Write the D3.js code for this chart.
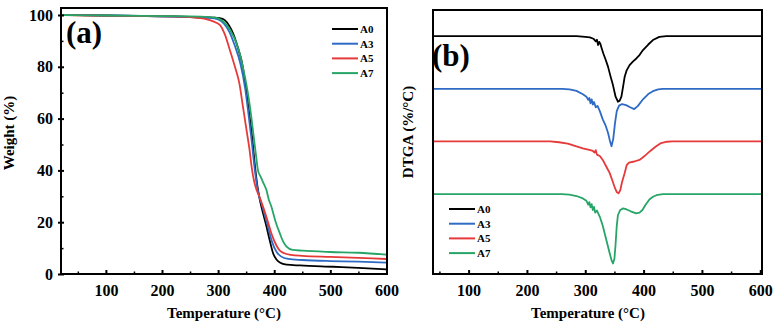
<!DOCTYPE html>
<html>
<head>
<meta charset="utf-8">
<script src="https://cdn.jsdelivr.net/npm/d3@7"></script>
<style>
  body { margin: 0; background: #fff; }
  svg { display: block; }
  text { font-family: "Liberation Serif", "Times New Roman", serif; font-weight: bold; }
</style>
</head>
<body>
<svg id="chart" width="776" height="334"></svg>
<script>
const seriesNames = ["A0", "A3", "A5", "A7"];
const seriesColors = ["#000000", "#2f6bc4", "#e63a3a", "#27a567"];

// TGA: [temperature, weight %]
const tgaA0 = [[20,100],[100,99.8],[200,99.5],[250,99.3],[290,99.0],[303,98.8],[312,98.0],[320,95.8],[326.5,93],[335,87.5],[344,80],[350,71],[356,61],[361,52],[365,43],[370,34],[374,29],[380,23.5],[386,18.5],[392,13],[398,8],[404,5.6],[410,4.4],[422,3.6],[446,3.3],[505,2.8],[550,2.4],[600,1.8]];
const tgaA3 = [[20,100],[100,99.8],[200,99.5],[250,99.2],[285,98.9],[300,98.3],[310,96.8],[320,93.5],[330,88],[340,81],[348,72],[354,62],[360,51],[365,41],[371,32],[379,26],[388,19],[396,12.5],[404,8.6],[412,6.8],[425,5.8],[450,5.4],[500,5],[550,4.8],[600,4.4]];
const tgaA5 = [[20,100],[60,99.8],[150,99.6],[230,99.4],[255,99.1],[267,98.8],[280,98.3],[290,97.6],[303,96.2],[312,92.5],[320.6,86.7],[330,80],[338,73.5],[344,65],[350,56.5],[356,48],[360,41],[364,36],[368,32.8],[373,30.2],[380,26],[389,20],[396,15],[404,11],[410,9],[418,8],[430,7.4],[450,7],[500,6.6],[550,6.2],[600,5.8]];
const tgaA7 = [[20,100],[100,99.8],[200,99.6],[270,99.4],[295,99.0],[305,98.2],[314,96.5],[322,94],[332,89.5],[340,84],[345,79],[350,73.7],[359,61],[364,52],[368,45],[371,40],[376,37.5],[381,35],[386,32.5],[390,29],[395,26],[402,20.5],[410,15.7],[416,12.5],[422,10.6],[433,9.3],[450,9],[500,8.5],[550,8.2],[600,7.5]];

// DTGA: [temperature, value relative to each curve's baseline]
const dtgaA0 = [[39,0],[200,0],[285,0],[300,-0.03],[308,-0.05],[314,-0.1],[318,-0.2],[320,-0.14],[322,-0.34],[324,-0.22],[326,-0.3],[328,-0.45],[331,-0.66],[335,-0.9],[339,-1.16],[343,-1.5],[347.5,-1.86],[352,-2.3],[356,-2.49],[359,-2.45],[362,-2.3],[365,-1.9],[367.6,-1.54],[371,-1.3],[376,-1.1],[382,-0.96],[387.6,-0.85],[393,-0.72],[399,-0.53],[408,-0.32],[416,-0.15],[427,-0.03],[439,0],[603,0]];
const dtgaA3 = [[39,0],[260,0],[273,-0.02],[285,-0.08],[296,-0.21],[302,-0.3],[305,-0.42],[307,-0.35],[309,-0.55],[311,-0.4],[313,-0.6],[315,-0.5],[318,-0.7],[321,-0.65],[325,-0.85],[330,-1.16],[335,-1.4],[339,-1.67],[342,-1.95],[345,-2.18],[348,-1.9],[351,-1.3],[354,-0.85],[358,-0.64],[363,-0.58],[370,-0.62],[377,-0.7],[384,-0.77],[390,-0.66],[399,-0.4],[408,-0.2],[416,-0.09],[425,-0.02],[433,0],[603,0]];
const dtgaA5 = [[39,0],[240,0],[255,-0.03],[270,-0.08],[285,-0.19],[296,-0.26],[307,-0.32],[313,-0.36],[316,-0.42],[318,-0.33],[320,-0.5],[325,-0.55],[330,-0.7],[336,-0.95],[342,-1.2],[346,-1.45],[350,-1.71],[354,-1.92],[357,-1.97],[360,-1.85],[363,-1.55],[367.6,-1.2],[371,-0.9],[375,-0.8],[384,-0.76],[393,-0.7],[398,-0.62],[404,-0.51],[412,-0.35],[421,-0.19],[430,-0.06],[440,-0.01],[450,0],[603,0]];
const dtgaA7 = [[39,0],[260,0],[273,-0.02],[285,-0.07],[296,-0.16],[302,-0.25],[305,-0.4],[307,-0.3],[309,-0.5],[311,-0.38],[313,-0.6],[315,-0.48],[317,-0.7],[320,-0.62],[325,-0.86],[330,-1.2],[334,-1.55],[338,-1.9],[342,-2.25],[345,-2.5],[347.5,-2.63],[350,-2.45],[352,-1.9],[354,-1.2],[356,-0.8],[360,-0.6],[365,-0.54],[371,-0.58],[378,-0.65],[387,-0.73],[393,-0.7],[398,-0.6],[404,-0.38],[410,-0.2],[416,-0.1],[422,-0.04],[433,0],[603,0]];
const dtgaOffsets = [0, -2, -4, -6];

const xMajor = [100, 200, 300, 400, 500, 600];
const xMinor = [50, 150, 250, 350, 450, 550];
const yMajorA = [0, 20, 40, 60, 80, 100];
const yMinorA = [10, 30, 50, 70, 90];

const svg = d3.select("#chart");

function styleLabels(a) {
    a.selectAll("text").attr("font-size", 16).attr("fill", "#000")
        .attr("font-family", "Liberation Serif, serif").attr("font-weight", "bold");
}

function frame(g, x, y) {
    g.append("rect")
        .attr("x", x.range()[0]).attr("y", y.range()[1])
        .attr("width", x.range()[1] - x.range()[0])
        .attr("height", y.range()[0] - y.range()[1])
        .attr("fill", "none").attr("stroke", "#000").attr("stroke-width", 2);
}

function bottomAxis(g, x, y) {
    g.append("g")
        .attr("transform", "translate(0," + y.range()[0] + ")")
        .call(d3.axisBottom(x).tickValues(xMajor).tickSize(-4).tickPadding(11).tickFormat(d3.format("d")))
        .call(a => a.select(".domain").remove())
        .call(a => a.selectAll("line").attr("stroke-width", 2))
        .call(styleLabels);
    g.append("g")
        .attr("transform", "translate(0," + y.range()[0] + ")")
        .call(d3.axisBottom(x).tickValues(xMinor).tickSize(-2.5).tickFormat(""))
        .call(a => a.select(".domain").remove())
        .call(a => a.selectAll("line").attr("stroke-width", 1.5));
}

function drawLegend(g, x0, y0) {
    seriesNames.forEach((name, i) => {
        g.append("line")
            .attr("x1", x0).attr("x2", x0 + 26)
            .attr("y1", y0 + i * 14.7).attr("y2", y0 + i * 14.7)
            .attr("stroke", seriesColors[i]).attr("stroke-width", 2);
        g.append("text")
            .attr("x", x0 + 28).attr("y", y0 + i * 14.7 + 4)
            .attr("font-size", 11).attr("fill", "#000")
            .text(name);
    });
}

// ---------- panel (a) ----------
const xA = d3.scaleLinear().domain([20, 601]).range([61, 387]);
const yA = d3.scaleLinear().domain([0, 102.7]).range([274, 8]);
const gA = svg.append("g");
const lineA = d3.line().curve(d3.curveMonotoneX).x(d => xA(d[0])).y(d => yA(d[1]));

[tgaA0, tgaA3, tgaA5, tgaA7].forEach((s, i) => {
    gA.append("path").datum(s)
        .attr("d", lineA)
        .attr("fill", "none")
        .attr("stroke", seriesColors[i])
        .attr("stroke-width", 1.8);
});

frame(gA, xA, yA);
bottomAxis(gA, xA, yA);

gA.append("g")
    .attr("transform", "translate(" + xA.range()[0] + ",0)")
    .call(d3.axisLeft(yA).tickValues(yMajorA).tickSize(3).tickPadding(5))
    .call(a => a.select(".domain").remove())
    .call(a => a.selectAll("line").attr("x2", -3).attr("x1", 3).attr("stroke-width", 2))
    .call(styleLabels);
gA.append("g")
    .attr("transform", "translate(" + xA.range()[0] + ",0)")
    .call(d3.axisLeft(yA).tickValues(yMinorA).tickSize(-2.5).tickFormat(""))
    .call(a => a.select(".domain").remove())
    .call(a => a.selectAll("line").attr("stroke-width", 1.5));

gA.append("text")
    .attr("x", 224).attr("y", 318)
    .attr("text-anchor", "middle").attr("font-size", 15)
    .text("Temperature (°C)");
gA.append("text")
    .attr("transform", "translate(14,133) rotate(-90)")
    .attr("text-anchor", "middle").attr("font-size", 15)
    .text("Weight (%)");
gA.append("text")
    .attr("x", 66).attr("y", 43)
    .attr("font-size", 31)
    .text("(a)");
drawLegend(gA, 332, 29);

// ---------- panel (b) ----------
const xB = d3.scaleLinear().domain([39, 603]).range([433, 762]);
const yB = d3.scaleLinear().domain([-9.03, 0.99]).range([274, 10]);
const gB = svg.append("g");

[dtgaA0, dtgaA3, dtgaA5, dtgaA7].forEach((s, i) => {
    const line = d3.line().x(d => xB(d[0])).y(d => yB(d[1] + dtgaOffsets[i]));
    gB.append("path").datum(s)
        .attr("d", line)
        .attr("fill", "none")
        .attr("stroke", seriesColors[i])
        .attr("stroke-width", 1.8)
        .attr("stroke-linejoin", "round");
});

frame(gB, xB, yB);
bottomAxis(gB, xB, yB);

gB.append("text")
    .attr("x", 588).attr("y", 318)
    .attr("text-anchor", "middle").attr("font-size", 15)
    .text("Temperature (°C)");
gB.append("text")
    .attr("transform", "translate(413,132) rotate(-90)")
    .attr("text-anchor", "middle").attr("font-size", 15)
    .text("DTGA (%/°C)");
gB.append("text")
    .attr("x", 432).attr("y", 66)
    .attr("font-size", 31)
    .text("(b)");
drawLegend(gB, 449, 209);
</script>
</body>
</html>
